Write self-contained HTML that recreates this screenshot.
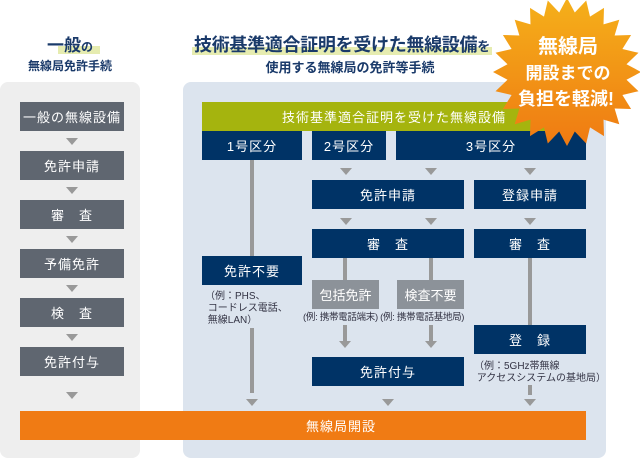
<!DOCTYPE html>
<html><head><meta charset="utf-8"><style>
*{margin:0;padding:0;box-sizing:border-box}
body{width:640px;height:460px;background:#fff;position:relative;overflow:hidden;font-family:"Liberation Sans","Noto Sans CJK JP",sans-serif}
.a{position:absolute}
.b{position:absolute;background:#003366;color:#fff;font-size:13px;display:flex;align-items:center;justify-content:center;letter-spacing:1px}
.g{position:absolute;background:#5f6670;color:#fff;font-size:13px;display:flex;align-items:center;justify-content:center;letter-spacing:1px}
.h{position:absolute;background:#8c9299;color:#fff;font-size:13px;display:flex;align-items:center;justify-content:center}
.t{position:absolute;width:0;height:0;border-left:6px solid transparent;border-right:6px solid transparent;border-top:7px solid #999}
.l{position:absolute;background:#999;width:4px}
.c{position:absolute;font-size:10px;color:#334;line-height:12px;white-space:nowrap}
</style></head><body>
<div class="a" style="left:0;top:82px;width:140px;height:376px;background:#eeeeee;border-radius:8px"></div>
<div class="a" style="left:183px;top:82px;width:423px;height:376px;background:#dce4ee;border-radius:8px"></div>

<div class="a" style="left:58px;top:46px;width:42px;height:8px;background:#e6ecb0"></div>
<div class="a" style="left:0;top:36px;width:140px;text-align:center;font-size:17px;font-weight:bold;color:#1a3a6a;line-height:20px">一般<span style="font-size:12px">の</span></div>
<div class="a" style="left:0;top:57px;width:140px;text-align:center;font-size:12px;font-weight:bold;color:#1a3a6a">無線局免許手続</div>
<div class="a" style="left:192px;top:47px;width:300px;height:8px;background:#e6ecb0"></div>
<div class="a" style="left:194px;top:35px;font-size:18px;font-weight:bold;color:#1a3a6a;white-space:nowrap;line-height:21px;letter-spacing:-0.3px">技術基準適合証明を受けた無線設備<span style="font-size:13px">を</span></div>
<div class="a" style="left:200px;top:57px;width:300px;text-align:center;font-size:13px;font-weight:bold;color:#1a3a6a">使用する無線局の免許等手続</div>

<div class="g" style="left:20px;top:102px;width:104px;height:29px">一般の無線設備</div>
<div class="t" style="left:66px;top:138px"></div>
<div class="g" style="left:20px;top:151px;width:104px;height:29px">免許申請</div>
<div class="t" style="left:66px;top:187px"></div>
<div class="g" style="left:20px;top:200px;width:104px;height:29px">審　査</div>
<div class="t" style="left:66px;top:236px"></div>
<div class="g" style="left:20px;top:249px;width:104px;height:29px">予備免許</div>
<div class="t" style="left:66px;top:285px"></div>
<div class="g" style="left:20px;top:298px;width:104px;height:29px">検　査</div>
<div class="t" style="left:66px;top:334px"></div>
<div class="g" style="left:20px;top:347px;width:104px;height:29px">免許付与</div>
<div class="t" style="left:66px;top:392px"></div>

<div class="a" style="left:202px;top:102px;width:384px;height:29px;background:#a5b40e;color:#fff;font-size:13px;display:flex;align-items:center;justify-content:center;letter-spacing:1px">技術基準適合証明を受けた無線設備</div>
<div class="b" style="left:202px;top:131px;width:100px;height:29px">1号区分</div>
<div class="b" style="left:312px;top:131px;width:74px;height:29px">2号区分</div>
<div class="b" style="left:396px;top:131px;width:190px;height:29px">3号区分</div>

<div class="l" style="left:250px;top:160px;height:96px"></div>
<div class="t" style="left:340px;top:168px"></div>
<div class="t" style="left:425px;top:168px"></div>
<div class="t" style="left:524px;top:168px"></div>
<div class="b" style="left:312px;top:180px;width:152px;height:29px">免許申請</div>
<div class="b" style="left:474px;top:180px;width:112px;height:29px">登録申請</div>
<div class="t" style="left:340px;top:218px"></div>
<div class="t" style="left:425px;top:218px"></div>
<div class="t" style="left:524px;top:218px"></div>
<div class="b" style="left:312px;top:229px;width:152px;height:29px">審　査</div>
<div class="b" style="left:474px;top:229px;width:112px;height:29px">審　査</div>

<div class="b" style="left:202px;top:256px;width:100px;height:29px">免許不要</div>
<div class="c" style="left:205px;top:291px">（例：PHS、<br>&nbsp;コードレス電話、<br>&nbsp;無線LAN）</div>
<div class="l" style="left:250px;top:328px;height:65px"></div>
<div class="t" style="left:246px;top:399px"></div>

<div class="l" style="left:343px;top:258px;height:22px"></div>
<div class="l" style="left:429px;top:258px;height:22px"></div>
<div class="h" style="left:312px;top:280px;width:67px;height:29px">包括免許</div>
<div class="h" style="left:397px;top:280px;width:67px;height:29px">検査不要</div>
<div class="c" style="left:303px;top:312px;font-size:9.5px;letter-spacing:-0.3px">(例: 携帯電話端末) (例: 携帯電話基地局)</div>
<div class="l" style="left:343px;top:325px;height:17px"></div>
<div class="l" style="left:429px;top:325px;height:17px"></div>
<div class="t" style="left:339px;top:341px"></div>
<div class="t" style="left:425px;top:341px"></div>
<div class="b" style="left:312px;top:357px;width:152px;height:29px">免許付与</div>
<div class="t" style="left:382px;top:399px"></div>

<div class="l" style="left:528px;top:258px;height:67px"></div>
<div class="b" style="left:474px;top:325px;width:112px;height:29px">登　録</div>
<div class="c" style="left:474px;top:361px">（例：5GHz帯無線<br>&nbsp;アクセスシステムの基地局）</div>
<div class="l" style="left:528px;top:385px;height:10px"></div>
<div class="t" style="left:524px;top:399px"></div>

<div class="a" style="left:20px;top:411px;width:566px;height:29px;background:#f07b14;color:#fff;font-size:13px;display:flex;align-items:center;padding-left:286px;letter-spacing:1px">無線局開設</div>

<svg class="a" style="left:0;top:0" width="640" height="160">
<defs><linearGradient id="og" x1="0" y1="0" x2="0" y2="1"><stop offset="0" stop-color="#f5b01a"/><stop offset="1" stop-color="#ef7a12"/></linearGradient></defs>
<polygon id="st" fill="url(#og)"/>
<text x="568" y="53" font-size="20" font-weight="bold" fill="#fff" text-anchor="middle" font-family="Liberation Sans,Noto Sans CJK JP,sans-serif">無線局</text>
<text x="568" y="79" font-size="17" font-weight="bold" fill="#fff" text-anchor="middle" font-family="Liberation Sans,Noto Sans CJK JP,sans-serif">開設までの</text>
<text x="566" y="105" font-size="18" font-weight="bold" fill="#fff" text-anchor="middle" font-family="Liberation Sans,Noto Sans CJK JP,sans-serif">負担を軽減!</text>
</svg>
<script>
var p=[],n=24,cx=567,cy=72;
for(var i=0;i<n*2;i++){var r=i%2?60:74,a=Math.PI*i/n-Math.PI/2;p.push((cx+r*Math.cos(a)).toFixed(1)+","+(cy+r*Math.sin(a)).toFixed(1));}
document.getElementById("st").setAttribute("points",p.join(" "));
</script>
</body></html>
